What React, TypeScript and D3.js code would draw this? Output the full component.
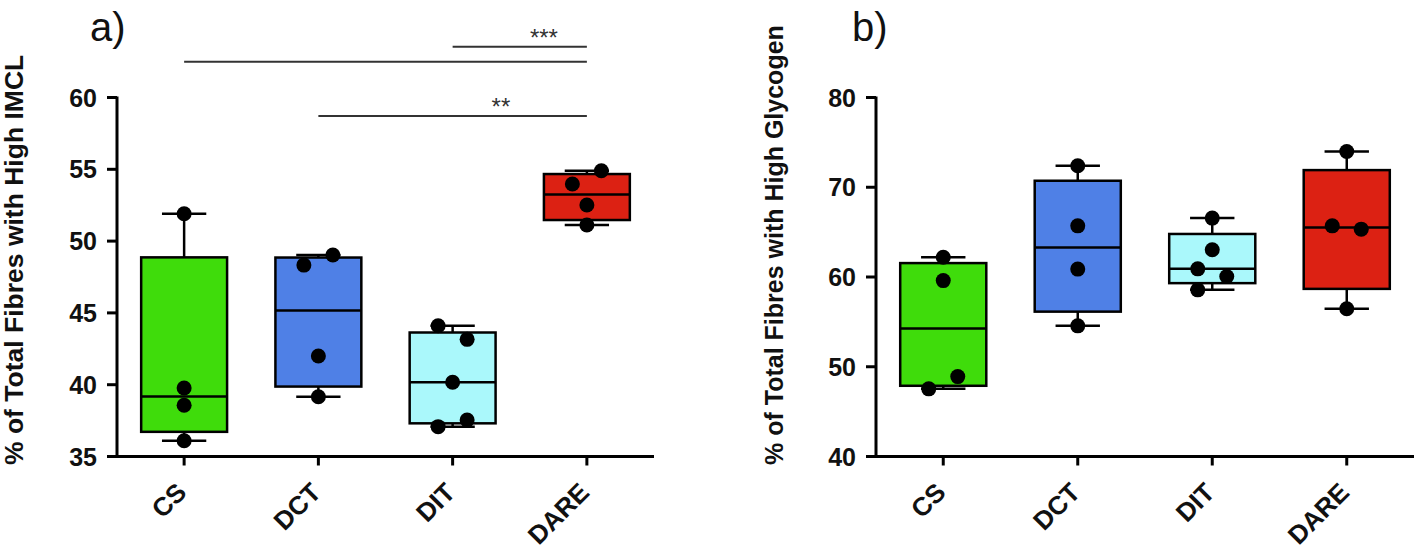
import React from 'react';
import * as d3 from 'd3';

const categories = ['CS', 'DCT', 'DIT', 'DARE'];
const boxColors = ['#3fdc0b', '#4f80e6', '#aaf8fb', '#dc2113'];

// Panel a: % of fibres with high IMCL (order inside overlapping pairs = left, right)
const imclCS = [51.9, 39.77, 38.57, 36.1];
const imclDCT = [48.33, 49.03, 42.0, 39.16];
const imclDIT = [44.11, 43.16, 40.17, 37.08, 37.54];
const imclDARE = [53.98, 54.9, 52.51, 51.12];
const imclTicks = [35, 40, 45, 50, 55, 60];

// Panel b: % of fibres with high glycogen
const glyCS = [62.2, 59.6, 47.54, 48.9];
const glyDCT = [72.4, 65.7, 60.88, 54.56];
const glyDIT = [66.56, 63.03, 58.57, 60.06, 60.91];
const glyDARE = [73.98, 65.7, 65.33, 56.46];
const glyTicks = [40, 50, 60, 70, 80];

// Significance comparisons for panel a
const sigFrom = ['DIT', 'CS', 'DCT'];
const sigTo = ['DARE', 'DARE', 'DARE'];
const sigLevel = [63.54, 62.49, 58.71];
const sigLabel = ['***', '', '**'];

const FONT = "'Liberation Sans', Arial, Helvetica, sans-serif";

function quantile(sorted: number[], p: number) {
  const n = sorted.length;
  const h = (n + 1) * p;
  if (h <= 1) return sorted[0];
  if (h >= n) return sorted[n - 1];
  const lo = Math.floor(h);
  return sorted[lo - 1] + (h - lo) * (sorted[lo] - sorted[lo - 1]);
}

function swarmOffsets(values: number[], y: (v: number) => number, minGap: number, d: number) {
  const idx = values.map((_, i) => i).sort((a, b) => values[a] - values[b]);
  const off = values.map(() => 0);
  let cluster: number[] = [idx[0]];
  const flush = () => {
    if (cluster.length > 1) {
      const members = [...cluster].sort((a, b) => a - b);
      members.forEach((m, k) => (off[m] = k % 2 === 0 ? -d : d));
    }
  };
  for (let k = 1; k < idx.length; k++) {
    const prev = idx[k - 1];
    const cur = idx[k];
    if (Math.abs(y(values[cur]) - y(values[prev])) < minGap) cluster.push(cur);
    else {
      flush();
      cluster = [cur];
    }
  }
  flush();
  return off;
}

const TOP = 97.5;
const BOTTOM = 456.5;

type PanelCfg = {
  label: string;
  title: string;
  titleSize: number;
  domain: [number, number];
  ticks: number[];
  data: number[][];
  x0: number;
  x1: number;
  titleX: number;
  labelX: number;
  sig: boolean;
};

const panels: PanelCfg[] = [
  {
    label: 'a)',
    title: '% of Total Fibres with High IMCL',
    titleSize: 26.5,
    domain: [35, 60],
    ticks: imclTicks,
    data: [imclCS, imclDCT, imclDIT, imclDARE],
    x0: 117,
    x1: 654,
    titleX: 23,
    labelX: 90,
    sig: true,
  },
  {
    label: 'b)',
    title: '% of Total Fibres with High Glycogen',
    titleSize: 25,
    domain: [40, 80],
    ticks: glyTicks,
    data: [glyCS, glyDCT, glyDIT, glyDARE],
    x0: 876,
    x1: 1414,
    titleX: 783,
    labelX: 852,
    sig: false,
  },
];

function Panel({ cfg }: { cfg: PanelCfg }) {
  const x = d3.scaleBand<string>().domain(categories).range([cfg.x0, cfg.x1]);
  const y = d3.scaleLinear().domain(cfg.domain).range([BOTTOM, TOP]);
  const bw = x.bandwidth();
  const boxW = bw * 0.64;
  const capW = bw * 0.33;
  const r = 7.5;
  return (
    <g>
      <text x={cfg.labelX} y={41} fontFamily={FONT} fontSize={40} fill="#111">
        {cfg.label}
      </text>
      <text
        transform={`translate(${cfg.titleX},465) rotate(-90)`}
        fontFamily={FONT}
        fontWeight="bold"
        fontSize={cfg.titleSize}
        textAnchor="start"
        fill="#111"
      >
        {cfg.title}
      </text>
      {categories.map((c, i) => {
        const vals = cfg.data[i];
        const s = [...vals].sort((a, b) => a - b);
        const q1 = quantile(s, 0.25);
        const med = quantile(s, 0.5);
        const q3 = quantile(s, 0.75);
        const mn = s[0];
        const mx = s[s.length - 1];
        const cx = (x(c) as number) + bw / 2;
        const offs = swarmOffsets(vals, y, 15, 14.5);
        return (
          <g key={c}>
            <line x1={cx} x2={cx} y1={y(q3)} y2={y(mx)} stroke="#000" strokeWidth={2.5} />
            <line x1={cx} x2={cx} y1={y(q1)} y2={y(mn)} stroke="#000" strokeWidth={2.5} />
            <line x1={cx - capW / 2} x2={cx + capW / 2} y1={y(mx)} y2={y(mx)} stroke="#000" strokeWidth={2.5} />
            <line x1={cx - capW / 2} x2={cx + capW / 2} y1={y(mn)} y2={y(mn)} stroke="#000" strokeWidth={2.5} />
            <rect
              x={cx - boxW / 2}
              y={y(q3)}
              width={boxW}
              height={y(q1) - y(q3)}
              fill={boxColors[i]}
              stroke="#000"
              strokeWidth={2.5}
            />
            <line x1={cx - boxW / 2} x2={cx + boxW / 2} y1={y(med)} y2={y(med)} stroke="#000" strokeWidth={2.5} />
            {vals.map((v, k) => (
              <circle key={k} cx={cx + offs[k]} cy={y(v)} r={r} fill="#000" />
            ))}
          </g>
        );
      })}
      {/* axes */}
      <line x1={cfg.x0} x2={cfg.x0} y1={TOP - 1} y2={BOTTOM + 1.5} stroke="#000" strokeWidth={3} />
      <line x1={cfg.x0 - 1.5} x2={cfg.x1} y1={BOTTOM} y2={BOTTOM} stroke="#000" strokeWidth={3} />
      {cfg.ticks.map((t) => (
        <g key={t}>
          <line x1={cfg.x0 - 10} x2={cfg.x0} y1={y(t)} y2={y(t)} stroke="#000" strokeWidth={3} />
          <text
            x={cfg.x0 - 20}
            y={y(t)}
            dy="0.36em"
            textAnchor="end"
            fontFamily={FONT}
            fontWeight="bold"
            fontSize={25}
            fill="#111"
          >
            {t}
          </text>
        </g>
      ))}
      {categories.map((c) => {
        const cx = (x(c) as number) + bw / 2;
        return (
          <g key={c}>
            <line x1={cx} x2={cx} y1={BOTTOM} y2={BOTTOM + 9} stroke="#000" strokeWidth={3} />
            <text
              transform={`translate(${cx + 4},494) rotate(-45)`}
              textAnchor="end"
              fontFamily={FONT}
              fontWeight="bold"
              fontSize={26}
              fill="#111"
            >
              {c}
            </text>
          </g>
        );
      })}
      {cfg.sig &&
        sigFrom.map((f, i) => {
          const xa = (x(f) as number) + bw / 2;
          const xb = (x(sigTo[i]) as number) + bw / 2;
          const yy = y(sigLevel[i]);
          return (
            <g key={i}>
              <line x1={xa} x2={xb} y1={yy} y2={yy} stroke="#333" strokeWidth={2} />
              {sigLabel[i] && (
                <text
                  x={xa + (xb - xa) * 0.68}
                  y={yy - 1}
                  textAnchor="middle"
                  fontFamily={FONT}
                  fontSize={24}
                  fill="#333"
                >
                  {sigLabel[i]}
                </text>
              )}
            </g>
          );
        })}
    </g>
  );
}

export default function App() {
  return (
    <svg
      width={1418}
      height={550}
      style={{ position: 'absolute', left: 0, top: 0, background: '#fff' }}
    >
      <rect width={1418} height={550} fill="#fff" />
      {panels.map((p) => (
        <Panel key={p.label} cfg={p} />
      ))}
    </svg>
  );
}
